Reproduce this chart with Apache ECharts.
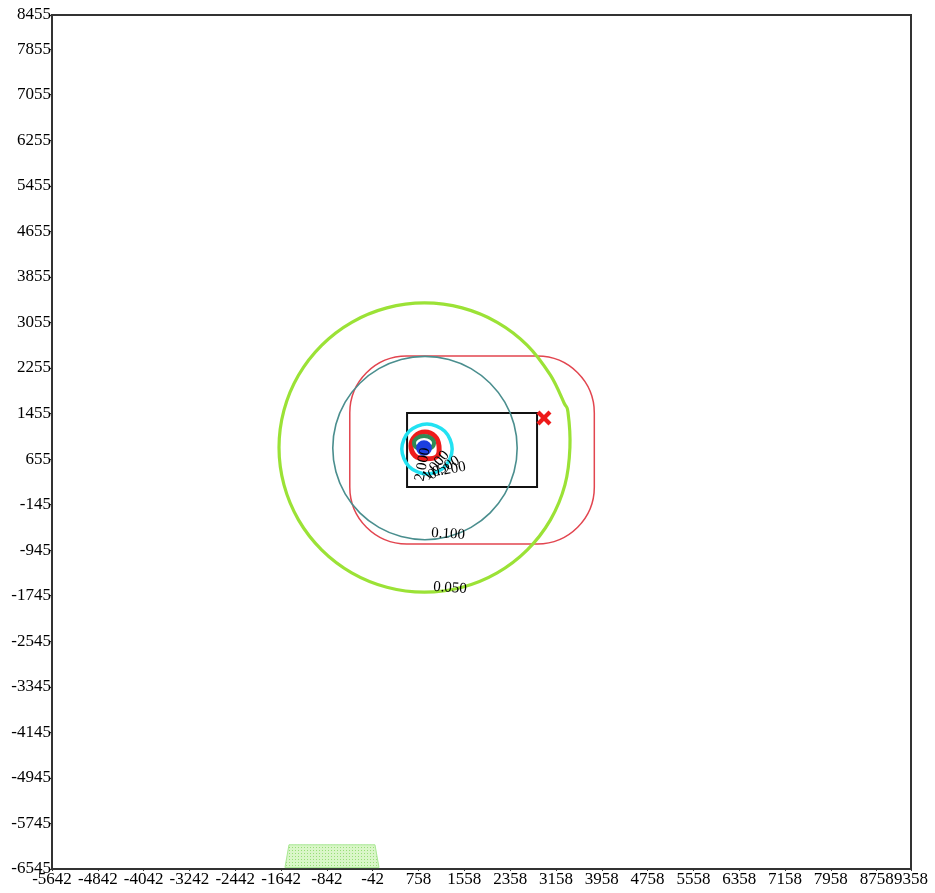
<!DOCTYPE html>
<html>
<head>
<meta charset="utf-8">
<script src="https://cdn.jsdelivr.net/npm/echarts@6/dist/echarts.min.js"></script>
<style>
  html, body { margin: 0; padding: 0; background: #fff; }
  #chart { width: 935px; height: 893px; }
</style>
</head>
<body>
<div id="chart"></div>
<script>
// Axis extents and tick positions (metres, plant coordinates)
const xRange = [-5642, 9358];
const yRange = [-6545, 8455];
const xTicks = [-5642, -4842, -4042, -3242, -2442, -1642, -842, -42, 758, 1558,
                2358, 3158, 3958, 4758, 5558, 6358, 7158, 7958, 8758, 9358];
const yTicks = [-6545, -5745, -4945, -4145, -3345, -2545, -1745, -945, -145, 655,
                1455, 2255, 3055, 3855, 4655, 5455, 6255, 7055, 7855, 8455];

// Concentration isopleths (closed rings, x/y in metres)
const contour050 = [
  [3402, 858], [3368, 1480], [3300, 1640], [3062, 2128], [2658, 2654], [2132, 3058],
  [1519, 3311], [862, 3398], [205, 3311], [-408, 3058], [-934, 2654], [-1338, 2128],
  [-1591, 1515], [-1678, 858], [-1591, 201], [-1338, -412], [-934, -938], [-408, -1342],
  [205, -1595], [862, -1682], [1519, -1595], [2132, -1342], [2658, -938], [3062, -412],
  [3315, 201]
];
const contour100 = [
  [2481, 849], [2426, 1266], [2265, 1654], [2009, 1987], [1676, 2243], [1288, 2404],
  [871, 2459], [454, 2404], [66, 2243], [-267, 1987], [-523, 1654], [-684, 1266],
  [-739, 849], [-684, 432], [-523, 44], [-267, -289], [66, -545], [454, -706],
  [871, -761], [1288, -706], [1676, -545], [2009, -289], [2265, 44], [2426, 432]
];
const contour200 = [
  [1346, 832], [1217, 1143], [906, 1272], [595, 1143],
  [466, 832], [595, 521], [906, 392], [1217, 521]
];
const contour500 = [
  [1116, 884], [1044, 1057], [871, 1129], [698, 1057], [626, 884],
  [698, 711], [871, 660], [1080, 700]
];
const contour1000 = [
  [1029, 937], [978, 1024], [854, 1060], [730, 1024],
  [679, 937], [730, 850], [854, 814], [978, 850]
];
const contour2000 = [
  [974, 849], [939, 934], [854, 969], [769, 934],
  [734, 849], [769, 764], [854, 729], [939, 764]
];

// Isopleth labels
const labelText  = ['0.050', '0.100', '2.000', '1.000', '0.500', '0.200'];
const labelPos   = [[1308, -1610], [1273, -662], [830, 560], [1060, 540], [1200, 500], [1290, 470]];
const labelAngle = [-4, -3, 80, 50, 30, 10];

// Plant boundary, property buffer distance, receptor of max impact, area source
const plantBox = [[558, 164], [2828, 1464]];
const bufferDist = 1000;
const maxReceptor = [[2949, 1376]];
const areaSource = [[-1574, -6520], [-1504, -6120], [-2, -6120], [68, -6520]];

// dotted fill for the area source
function dotPattern() {
  const c = document.createElement('canvas');
  c.width = 3; c.height = 3;
  const g = c.getContext('2d');
  g.fillStyle = '#d9f6c8';
  g.fillRect(0, 0, 3, 3);
  g.fillStyle = '#96de76';
  g.fillRect(1, 1, 1, 1);
  return c;
}

// Closed ring drawn as a Catmull-Rom spline through the ring's vertices
function ringSeries(points, color, width, fill) {
  return {
    type: 'custom',
    coordinateSystem: 'cartesian2d',
    silent: true,
    data: [points[0]],
    renderItem: function (params, api) {
      const p = points.map(q => api.coord(q));
      const n = p.length;
      let d = 'M' + p[0][0] + ',' + p[0][1];
      for (let i = 0; i < n; i++) {
        const a = p[(i - 1 + n) % n], b = p[i], c = p[(i + 1) % n], e = p[(i + 2) % n];
        const c1x = b[0] + (c[0] - a[0]) / 6, c1y = b[1] + (c[1] - a[1]) / 6;
        const c2x = c[0] - (e[0] - b[0]) / 6, c2y = c[1] - (e[1] - b[1]) / 6;
        d += ' C' + c1x + ',' + c1y + ' ' + c2x + ',' + c2y + ' ' + c[0] + ',' + c[1];
      }
      d += ' Z';
      let minX = Infinity, minY = Infinity, maxX = -Infinity, maxY = -Infinity;
      return {
        type: 'path',
        shape: { pathData: d, layout: 'none' },
        style: { fill: fill || 'none', stroke: color, lineWidth: width, lineJoin: 'round' }
      };
    }
  };
}

const serif = '"Liberation Serif", "Times New Roman", serif';
const plain = v => String(v);
const chart = echarts.init(document.getElementById('chart'));

const option = {
  animation: false,
  backgroundColor: '#fff',
  grid: {
    left: 52, right: 24, top: 15, bottom: 24,
    show: true, borderColor: '#333', borderWidth: 2, backgroundColor: '#fff'
  },
  xAxis: {
    type: 'value', min: xRange[0], max: xRange[1],
    splitLine: { show: false },
    axisLine: { onZero: false, lineStyle: { color: '#333', width: 2 } },
    axisTick: { customValues: xTicks, length: 2, lineStyle: { color: '#333' } },
    axisLabel: {
      customValues: xTicks, formatter: plain, showMinLabel: true, showMaxLabel: true,
      fontFamily: serif, fontSize: 17, color: '#000', margin: 2
    }
  },
  yAxis: {
    type: 'value', min: yRange[0], max: yRange[1],
    splitLine: { show: false },
    axisLine: { onZero: false, lineStyle: { color: '#333', width: 2 } },
    axisTick: { customValues: yTicks, length: 2, lineStyle: { color: '#333' } },
    axisLabel: {
      customValues: yTicks, formatter: plain, showMinLabel: true, showMaxLabel: true,
      fontFamily: serif, fontSize: 17, color: '#000', margin: 1
    }
  },
  series: [
    // area source
    {
      type: 'custom', coordinateSystem: 'cartesian2d', silent: true,
      data: [areaSource[0]],
      renderItem: function (params, api) {
        return {
          type: 'polygon',
          shape: { points: areaSource.map(p => api.coord(p)) },
          style: { fill: { image: dotPattern(), repeat: 'repeat' }, stroke: '#a9e894', lineWidth: 1 }
        };
      }
    },
    // property buffer (rounded outline around the plant)
    {
      type: 'custom', coordinateSystem: 'cartesian2d', silent: true,
      data: [plantBox[0]],
      renderItem: function (params, api) {
        const tl = api.coord([plantBox[0][0] - bufferDist, plantBox[1][1] + bufferDist]);
        const br = api.coord([plantBox[1][0] + bufferDist, plantBox[0][1] - bufferDist]);
        const r = api.size([bufferDist, bufferDist]);
        return {
          type: 'rect',
          shape: { x: tl[0], y: tl[1], width: br[0] - tl[0], height: br[1] - tl[1], r: Math.min(r[0], r[1]) },
          style: { fill: 'none', stroke: '#e2454f', lineWidth: 1.5 }
        };
      }
    },
    // plant boundary
    {
      type: 'custom', coordinateSystem: 'cartesian2d', silent: true,
      data: [plantBox[0]],
      renderItem: function (params, api) {
        const a = api.coord([plantBox[0][0], plantBox[1][1]]);
        const b = api.coord([plantBox[1][0], plantBox[0][1]]);
        return {
          type: 'rect',
          shape: { x: a[0], y: a[1], width: b[0] - a[0], height: b[1] - a[1] },
          style: { fill: 'none', stroke: '#111', lineWidth: 2 }
        };
      }
    },
    ringSeries(contour100, '#4a8e8e', 1.6),
    ringSeries(contour050, '#9be236', 3.2),
    ringSeries(contour200, '#22e2f2', 3.5),
    ringSeries(contour500, '#ee1c1c', 5),
    ringSeries(contour1000, '#2f8a55', 4),
    ringSeries(contour2000, '#1c3fe0', 2, '#1c3fe0'),
    // isopleth labels
    {
      type: 'custom', coordinateSystem: 'cartesian2d', silent: true,
      data: labelPos.map((p, i) => [p[0], p[1], i]),
      renderItem: function (params, api) {
        const i = api.value(2);
        const pt = api.coord([api.value(0), api.value(1)]);
        return {
          type: 'text',
          x: pt[0], y: pt[1],
          rotation: labelAngle[i] * Math.PI / 180,
          style: {
            text: labelText[i], font: '15px ' + serif, fill: '#000',
            align: 'center', verticalAlign: 'middle'
          }
        };
      }
    },
    // receptor of maximum concentration
    {
      type: 'scatter', silent: true,
      symbol: 'path://M2,0 L5,3 L8,0 L10,2 L7,5 L10,8 L8,10 L5,7 L2,10 L0,8 L3,5 L0,2 Z',
      symbolSize: 15,
      itemStyle: { color: '#ee1a1a', opacity: 1 },
      data: maxReceptor
    }
  ]
};

chart.setOption(option);
</script>
</body>
</html>
